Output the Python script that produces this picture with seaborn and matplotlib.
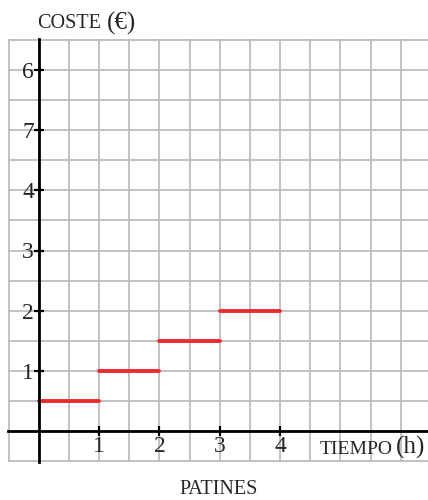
import pandas as pd
import numpy as np
import matplotlib
matplotlib.use('Agg')
import matplotlib.pyplot as plt
from matplotlib.ticker import MultipleLocator, FixedLocator
import seaborn as sns

# tramos de la tarifa de patines
tramo_inicio = [0, 1, 2, 3]
tramo_fin = [1, 2, 3, 4]
coste = [0.5, 1.0, 1.5, 2.0]

y_ticks = [1, 2, 3, 4, 5, 6]
y_tick_labels = ['1', '2', '3', '4', '7', '6']
x_ticks = [1, 2, 3, 4]
x_tick_labels = ['1', '2', '3', '4']

ROJO = '#EE2A2F'
GRIS = '#BDBDBD'
SERIF = ['Liberation Serif', 'DejaVu Serif']

filas = []
for i, (a, b, c) in enumerate(zip(tramo_inicio, tramo_fin, coste)):
    filas.append({'tiempo': a, 'coste': c, 'tramo': i})
    filas.append({'tiempo': b, 'coste': c, 'tramo': i})
df = pd.DataFrame(filas)

sns.set_style('white')
plt.rcParams['font.family'] = SERIF

fig = plt.figure(figsize=(4.28, 5.0), dpi=100)
ax = fig.add_axes([8 / 428, 38 / 500, 420 / 428, 423 / 500])

ax.set_xlim(-0.51, 6.45)
ax.set_ylim(-0.51, 6.51)

ax.xaxis.set_major_locator(FixedLocator(x_ticks))
ax.yaxis.set_major_locator(FixedLocator(y_ticks))
ax.xaxis.set_minor_locator(MultipleLocator(0.5))
ax.yaxis.set_minor_locator(MultipleLocator(0.5))
ax.grid(True, which='both', color=GRIS, linewidth=1.3)
ax.set_axisbelow(True)

sns.lineplot(data=df, x='tiempo', y='coste', units='tramo', estimator=None,
             color=ROJO, linewidth=2.8, ax=ax, legend=False, zorder=4)

ax.spines['left'].set_position(('data', 0))
ax.spines['bottom'].set_position(('data', 0))
for s in ['left', 'bottom']:
    ax.spines[s].set_color('black')
    ax.spines[s].set_linewidth(2)
    ax.spines[s].set_zorder(5)
ax.spines['top'].set_visible(False)
ax.spines['right'].set_visible(False)

ax.set_xticklabels(x_tick_labels)
ax.set_yticklabels(y_tick_labels)
ax.tick_params(which='major', bottom=True, left=True, direction='inout', length=7,
               width=1.6, color='black', labelsize=17, pad=0)
ax.tick_params(which='minor', length=0)
ax.set_xlabel('')
ax.set_ylabel('')

# rotulos de los ejes (versalitas aproximadas)
fig.text(37 / 428, 1 - 24 / 500, 'COSTE', fontsize=14.5, family=SERIF, va='center', ha='left')
fig.text(107 / 428, 1 - 23 / 500, '(€)', fontsize=18, family=SERIF, va='center', ha='left')
fig.text(320 / 428, 1 - 449 / 500, 'TIEMPO', fontsize=14, family=SERIF, va='center', ha='left')
fig.text(396 / 428, 1 - 447 / 500, '(h)', fontsize=18, family=SERIF, va='center', ha='left')
fig.text(219 / 428, 1 - 490 / 500, 'PATINES', fontsize=14.5, family=SERIF, va='center', ha='center')

fig.savefig('out.png', dpi=100, facecolor='white')
